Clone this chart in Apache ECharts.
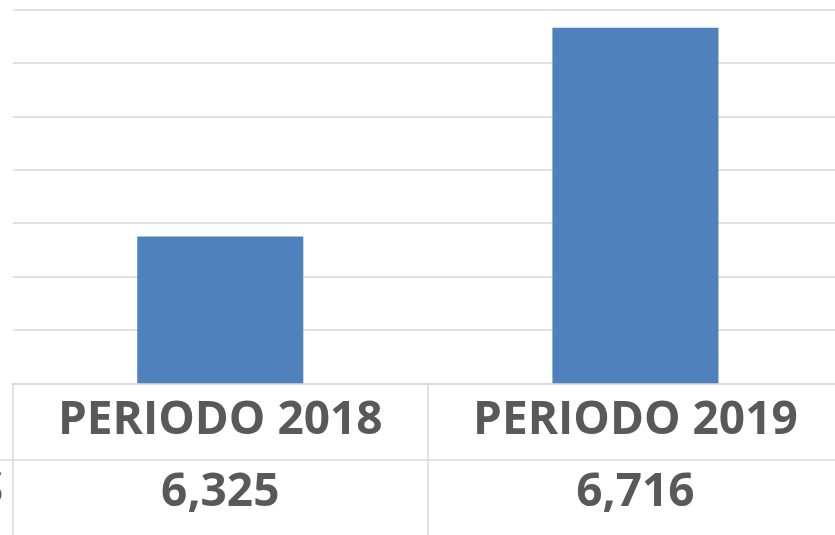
<!DOCTYPE html>
<html>
<head>
<meta charset="utf-8">
<script src="https://cdn.jsdelivr.net/npm/echarts@6/dist/echarts.min.js"></script>
<style>
  html, body { margin: 0; padding: 0; background: #fff; overflow: hidden; }
  #chart { width: 843px; height: 535px; }
</style>
</head>
<body>
<div id="chart"></div>
<script>
var categories = ['PERIODO 2018', 'PERIODO 2019'];
var values = [6325, 6716];
var axisMin = 6050;
var axisMax = 6750;
var axisStep = 100;

var textColor = '#595959';
var lineColor = '#d9d9d9';
var fontFamily = '"Open Sans", "Liberation Sans", sans-serif';

// tabla de datos bajo el eje: fila de categorias y fila de valores
var valueLabels = values.map(function (v) {
    return v.toLocaleString('en-US');
});

var chart = echarts.init(document.getElementById('chart'), null, { renderer: 'canvas' });

chart.setOption({
    animation: false,
    grid: {
        left: 12.7,
        right: 0,
        top: 9.7,
        bottom: 151.7,
        containLabel: false
    },
    xAxis: [
        {
            type: 'category',
            data: categories,
            axisLine: { show: true, lineStyle: { color: lineColor, width: 1.5 } },
            axisTick: {
                show: true,
                interval: 0,
                alignWithLabel: false,
                length: 160,
                lineStyle: { color: lineColor, width: 1.5 }
            },
            axisLabel: {
                interval: 0,
                color: textColor,
                fontFamily: fontFamily,
                fontWeight: 'bold',
                fontSize: 46,
                lineHeight: 46,
                margin: 15
            }
        },
        {
            type: 'category',
            position: 'bottom',
            offset: 77,
            data: valueLabels,
            axisLine: { show: false },
            axisTick: { show: false },
            axisLabel: {
                interval: 0,
                color: textColor,
                fontFamily: fontFamily,
                fontWeight: 'bold',
                fontSize: 46,
                lineHeight: 46,
                margin: 10
            }
        }
    ],
    yAxis: {
        type: 'value',
        min: axisMin,
        max: axisMax,
        interval: axisStep,
        axisLine: { show: false },
        axisTick: { show: false },
        axisLabel: { show: false },
        splitLine: { show: true, lineStyle: { color: lineColor, width: 1.5 } }
    },
    series: [
        {
            type: 'bar',
            data: values,
            barWidth: '40%',
            itemStyle: { color: '#4f81bd' }
        }
    ],
    graphic: [
        {
            // separador entre fila de categorias y fila de valores
            type: 'line',
            shape: { x1: 0, y1: 460, x2: 843, y2: 460 },
            style: { stroke: lineColor, lineWidth: 1.5 }
        },
        {
            // resto de la etiqueta de leyenda, cortada a la izquierda
            type: 'text',
            left: -22,
            top: 468,
            style: {
                text: 'S',
                fill: textColor,
                font: 'bold 46px "Open Sans", sans-serif'
            }
        }
    ]
});
</script>
</body>
</html>
